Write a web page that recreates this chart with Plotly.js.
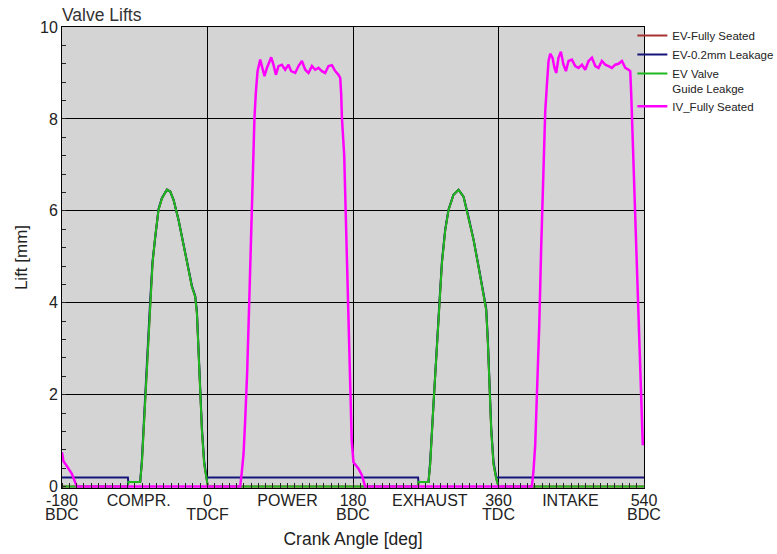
<!DOCTYPE html>
<html>
<head>
<meta charset="utf-8">
<script src="https://cdn.plot.ly/plotly-3.0.1.min.js"></script>
<style>html,body{margin:0;padding:0;background:#fff;}#chart{width:777px;height:554px;}</style>
</head>
<body>
<div id="chart"></div>
<script>
// ---- Data ----
const seriesNames = ["EV-Fully Seated", "EV-0.2mm Leakage", "EV Valve<br>Guide Leakge", "IV_Fully Seated"];

// Exhaust valve crank angles [deg]
const evAngle = [-180, -98.5, -98, -83.3, -81.2, -77.1, -73.0, -70.9, -68.0, -64.7,
  -60.6, -56.4, -50.2, -46.1, -42.0, -35.8, -29.6, -23.4, -19.3, -15.2,
  -13.1, -11.1, -9.0, -6.9, -4.1, -0.7, 0, 0.5,
  260.5, 261, 273.4, 275.5, 279.6, 283.8, 287.0, 290.0, 294.1, 298.2,
  304.3, 310.5, 316.7, 322.9, 329.1, 335.3, 341.5, 344.8, 346.9, 348.9,
  351.0, 353.8, 357.2, 360, 360.5, 540];

// EV-Fully Seated lift [mm]
const evSeated = [0, 0, 0.1, 0.1, 0.5, 1.95, 3.26, 3.98, 4.86, 5.44,
  6.02, 6.27, 6.46, 6.42, 6.24, 5.80, 5.29, 4.71, 4.35, 4.13,
  3.77, 2.89, 2.02, 1.22, 0.49, 0.13, 0, 0,
  0, 0.1, 0.1, 0.49, 1.80, 3.11, 3.98, 4.86, 5.58, 6.02,
  6.35, 6.46, 6.31, 5.87, 5.37, 4.78, 4.20, 3.84, 3.11, 2.17,
  1.22, 0.49, 0.17, 0, 0, 0];

// EV-0.2mm Leakage lift [mm]
const evLeak = [0.2, 0.2, 0.1, 0.1, 0.58, 2.05, 3.35, 4.05, 4.90, 5.47,
  6.04, 6.28, 6.46, 6.42, 6.24, 5.80, 5.30, 4.73, 4.37, 4.15,
  3.82, 2.95, 2.08, 1.28, 0.55, 0.15, 0.2, 0.2,
  0.2, 0.1, 0.1, 0.56, 1.90, 3.20, 4.03, 4.90, 5.60, 6.03,
  6.35, 6.46, 6.31, 5.87, 5.38, 4.80, 4.22, 3.88, 3.17, 2.24,
  1.28, 0.55, 0.2, 0.2, 0.2, 0.2];

// EV Valve Guide Leakage lift [mm]
const evGuide = [0, 0, 0.1, 0.1, 0.5, 1.95, 3.26, 3.98, 4.86, 5.44,
  6.02, 6.27, 6.46, 6.42, 6.24, 5.80, 5.29, 4.71, 4.35, 4.13,
  3.77, 2.89, 2.02, 1.22, 0.49, 0.13, 0, 0,
  0, 0.1, 0.1, 0.49, 1.80, 3.11, 3.98, 4.86, 5.58, 6.02,
  6.35, 6.46, 6.31, 5.87, 5.37, 4.78, 4.20, 3.84, 3.11, 2.17,
  1.22, 0.49, 0.17, 0, 0, 0];

// Intake valve crank angles [deg]
const ivAngle = [-180, -178.2, -176, -174, -167.8, -161.6,
  40.5, 42.6, 44.6, 46.6, 49.1, 51.6, 54.1, 56.9, 58.1, 59.9,
  61.9, 65.2, 68.0, 70.5, 73.5, 78.8, 81.6, 84.6, 87.8, 92.0,
  96.1, 100.2, 103.5, 108.5, 112.6, 116.8, 120.9, 124.9, 129.2, 133.2,
  137.3, 141.5, 145.6, 149.7, 153.9, 158.0, 162.1, 164.2, 165.4, 166.3,
  169.1, 171.6, 174.1, 176.5, 178.4, 180.6, 186.8, 191, 195.1,
  401.3, 403.3, 405.4, 407.9, 410.4, 412.8, 415.7, 417.8, 419.9, 421.9,
  424.0, 426.8, 429.3, 431.4, 434.2, 437.2, 440.4, 443.4, 446.6, 450.8,
  454.9, 459.0, 463.2, 467.3, 471.4, 475.6, 479.7, 483.7, 487.9, 492.0,
  496.1, 500.3, 504.4, 508.5, 512.7, 516.8, 520.9, 523.0, 524.2, 525.1,
  527.1, 529.2, 531.6, 534.1, 536.0, 537.2, 538.5];

// IV_Fully Seated lift [mm]
const ivSeated = [0.75, 0.55, 0.5, 0.45, 0.28, 0,
  0, 0.35, 0.71, 1.44, 2.5, 4.0, 5.6, 7.22, 8.02, 8.60,
  9.04, 9.29, 9.11, 8.93, 9.11, 9.34, 9.18, 8.96, 9.15, 9.18,
  9.07, 9.18, 9.04, 9.00, 9.15, 9.26, 9.07, 9.00, 9.15, 9.07,
  9.11, 9.04, 9.00, 9.15, 9.17, 9.04, 8.96, 8.89, 8.53, 8.02,
  7.22, 5.5, 3.5, 2.0, 1.0, 0.53, 0.39, 0.25, 0,
  0, 0.35, 0.9, 2.0, 3.5, 5.2, 7.22, 8.16, 8.75, 9.26,
  9.42, 9.33, 9.11, 9.00, 9.33, 9.46, 9.18, 9.04, 9.26, 9.29,
  9.15, 9.11, 9.18, 9.07, 9.26, 9.33, 9.15, 9.11, 9.26, 9.18,
  9.15, 9.11, 9.18, 9.20, 9.26, 9.11, 9.07, 9.04, 8.53, 8.02,
  7.22, 6.0, 4.5, 3.0, 2.0, 1.3, 0.9];

// Axis ticks: first row (angles and stroke names), second row (dead centres)
const xRow1Ticks = [-180, -85, 0, 99, 180, 275, 360, 449, 540];
const xRow1Labels = ["-180", "COMPR.", "0", "POWER", "180", "EXHAUST", "360", "INTAKE", "540"];
const xRow2Ticks = [-180, 0, 180, 360, 540];
const xRow2Labels = ["BDC", "TDCF", "BDC", "TDC", "BDC"];
const yTicks = [0, 2, 4, 6, 8, 10];

const colors = ["#a83232", "#14147a", "#1fb81f", "#ff00ff"];
const widths = [2, 2, 2, 2.5];
const FONT = "Arial, 'Liberation Sans', sans-serif";
const TICKFONT = {family: FONT, size: 16, color: '#222'};

const traces = [
  {x: evAngle, y: evSeated, name: seriesNames[0], xaxis: 'x', yaxis: 'y'},
  {x: evAngle, y: evLeak, name: seriesNames[1], xaxis: 'x', yaxis: 'y'},
  {x: evAngle, y: evGuide, name: seriesNames[2], xaxis: 'x', yaxis: 'y'},
  {x: ivAngle, y: ivSeated, name: seriesNames[3], xaxis: 'x2', yaxis: 'y'}
].map((t, i) => Object.assign(t, {
  type: 'scatter', mode: 'lines',
  line: {color: colors[i], width: widths[i]},
  hoverinfo: 'x+y+name'
}));

const layout = {
  width: 777, height: 554,
  margin: {l: 62, r: 133, t: 27, b: 66, pad: 0, autoexpand: false},
  paper_bgcolor: '#ffffff',
  plot_bgcolor: '#d4d4d4',
  font: {family: FONT, size: 15, color: '#222'},
  showlegend: true,
  title: {
    text: 'Valve Lifts',
    font: {family: FONT, size: 17.5, color: '#333'},
    x: 0, xref: 'paper', xanchor: 'left',
    y: 0.973, yref: 'container', yanchor: 'middle'
  },
  legend: {
    x: 0.98, xanchor: 'left', y: 1.012, yanchor: 'top',
    font: {family: FONT, size: 11.5, color: '#222'},
    bgcolor: 'rgba(0,0,0,0)', borderwidth: 0,
    itemwidth: 30, valign: 'top', tracegroupgap: 0
  },
  xaxis: {
    range: [-180, 540], fixedrange: true,
    tickmode: 'array', tickvals: xRow1Ticks, ticktext: xRow1Labels,
    tickfont: TICKFONT, ticklabelstandoff: -2,
    showgrid: false, zeroline: false,
    showline: true, linecolor: '#000', linewidth: 1, mirror: true,
    ticks: '',
    minor: {tickmode: 'linear', tick0: -180, dtick: 9, ticks: 'inside', ticklen: 5, tickcolor: '#222', showgrid: false},
    title: {text: 'Crank Angle [deg]', font: {family: FONT, size: 17.5, color: '#222'}, standoff: 24},
    automargin: false
  },
  xaxis2: {
    overlaying: 'x', anchor: 'y', side: 'bottom',
    range: [-180, 540], fixedrange: true,
    tickmode: 'array', tickvals: xRow2Ticks, ticktext: xRow2Labels,
    tickfont: TICKFONT, ticklabelstandoff: 15,
    showgrid: true, gridcolor: '#000', gridwidth: 1,
    zeroline: false, showline: false, ticks: '',
    automargin: false
  },
  yaxis: {
    range: [-0.03, 10], fixedrange: true,
    tickmode: 'array', tickvals: yTicks,
    tickfont: TICKFONT,
    showgrid: true, gridcolor: '#000', gridwidth: 1,
    zeroline: false,
    showline: true, linecolor: '#000', linewidth: 1, mirror: true,
    ticks: 'inside', ticklen: 4, tickcolor: '#222',
    minor: {tickmode: 'linear', tick0: 0, dtick: 0.4, ticks: 'inside', ticklen: 4, tickcolor: '#222', showgrid: false},
    title: {text: 'Lift [mm]', font: {family: FONT, size: 17, color: '#222'}, standoff: 8},
    automargin: false
  }
};

Plotly.newPlot('chart', traces, layout, {displayModeBar: false, staticPlot: true});
</script>
</body>
</html>
